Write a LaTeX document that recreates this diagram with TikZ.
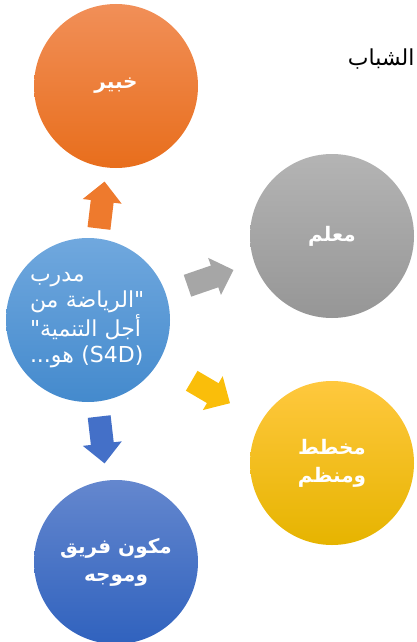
\documentclass[tikz,border=0pt]{standalone}
\usepackage{fontspec}
\setmainfont{DejaVu Sans}
\newfontfamily\arabicfont[Script=Arabic]{DejaVu Sans}
\TeXXeTstate=1
\usetikzlibrary{arrows.meta}
\definecolor{experttop}{RGB}{241,143,88}
\definecolor{expertbot}{RGB}{232,110,28}
\definecolor{teachertop}{RGB}{180,180,180}
\definecolor{teacherbot}{RGB}{150,150,150}
\definecolor{coachtop}{RGB}{112,168,222}
\definecolor{coachbot}{RGB}{68,138,205}
\definecolor{plannertop}{RGB}{255,200,62}
\definecolor{plannermid}{RGB}{255,196,0}
\definecolor{plannerbot}{RGB}{230,180,0}
\definecolor{teamtop}{RGB}{100,135,206}
\definecolor{teambot}{RGB}{48,98,190}
\tikzset{
  role/.style={circle, minimum size=164pt, inner sep=0pt, text=white,
    align=center, font=\arabicfont\bfseries\fontsize{20}{28}\selectfont},
  flow/.style={line width=23pt, -{Triangle[width=38pt,length=20pt]}},
}

\begin{document}
\begin{tikzpicture}[x=1pt,y=-1pt]
    \useasboundingbox (0,0) rectangle (417,642);
    % circles
    \node[role, top color=experttop, bottom color=expertbot] (expert) at (116,86)
      {\beginR خبير\endR};
    \node[role, top color=teachertop, bottom color=teacherbot] (teacher) at (332,236)
      {\beginR معلم\endR};
    \node[role, top color=plannertop, middle color=plannermid, bottom color=plannerbot]
      (planner) at (332,463) {\beginR مخطط\endR\\ \beginR ومنظم\endR};
    \node[role, top color=teamtop, bottom color=teambot] (team) at (116,562)
      {\beginR مكون فريق\endR\\ \beginR وموجه\endR};
    \node[role, top color=coachtop, bottom color=coachbot, text width=116pt, align=left,
          font=\arabicfont\fontsize{22}{26}\selectfont] (coach) at (88,320)
      {\beginR مدرب\endR\\ \beginR "الرياضة من\endR\\ \beginR أجل التنمية"\endR\\
       \beginR\beginL(S4D)\endL{} هو...\endR};
    \node[anchor=base east, font=\arabicfont\fontsize{22}{24}\selectfont] (youth)
      at (418,66) {\beginR الشباب\endR};
    % arrows
    \draw[flow, color={rgb,255:red,238;green,122;blue,45}, shorten <=10pt, shorten >=14pt]
      (coach) -- (expert);
    \draw[flow, color={rgb,255:red,166;green,166;blue,166}, shorten <=23pt, shorten >=22pt]
      (coach) -- (teacher);
    \draw[flow, color={rgb,255:red,250;green,190;blue,10}, shorten <=38pt, shorten >=36pt]
      (coach) -- (planner);
    \draw[flow, color={rgb,255:red,68;green,112;blue,200}, shorten <=15pt, shorten >=17pt]
      (coach) -- (team);
  \end{tikzpicture}
\end{document}
